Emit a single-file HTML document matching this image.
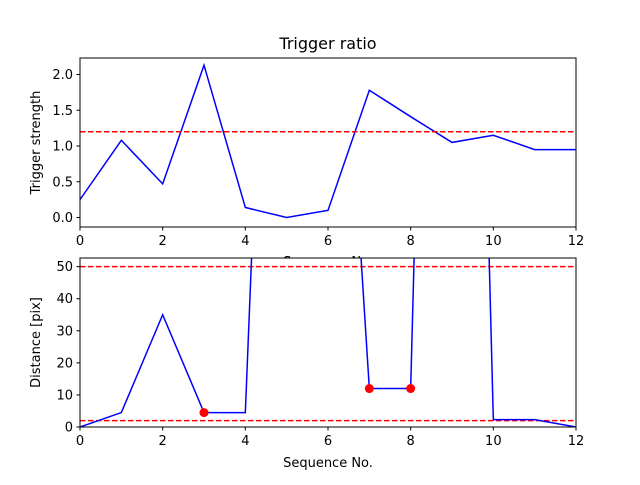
<!DOCTYPE html>
<html><head><meta charset="utf-8"><style>
body{margin:0;background:#fff;}
svg text{font-family:"DejaVu Sans","Liberation Sans",sans-serif;fill:#000;}
</style></head><body>
<svg id="chart" width="640" height="480" xmlns="http://www.w3.org/2000/svg">
<defs>
<clipPath id="c1"><rect x="80" y="58" width="496" height="169"/></clipPath>
<clipPath id="c2"><rect x="80" y="258" width="496" height="169"/></clipPath>
</defs>
<rect width="640" height="480" fill="#fff"/>
<g id="g1"></g>
<g id="g2"></g>
</svg>
<script>
const seq=[0,1,2,3,4,5,6,7,8,9,10,11,12];
const strength=[0.25,1.08,0.47,2.13,0.14,0.0,0.10,1.78,1.41,1.05,1.15,0.95,0.95];
const strengthThreshold=1.2;
const distance=[0,4.5,35,4.5,4.5,325,215,12,12,500,2.3,2.3,0];
const distanceThresholds=[50,2];
const flagged=[3,7,8];
const xTicks=[0,2,4,6,8,10,12];
const yTicks1=[0.0,0.5,1.0,1.5,2.0];
const yTicks2=[0,10,20,30,40,50];
const NS="http://www.w3.org/2000/svg";
function mk(p,t,a){const e=document.createElementNS(NS,t);for(const k in a)e.setAttribute(k,a[k]);p.appendChild(e);return e;}
const X=v=>80+v*(496/12);
const Y1=v=>217.5-v*71.5;
const Y2=v=>427-v*(169/52.7);
function axes(g,Y,yt,fmt,top,clip,ylabel,yl){
  const bg=mk(g,'rect',{x:80,y:top,width:496,height:169,fill:'#fff'});
  
  
  return mk(g,'g',{'clip-path':'url(#'+clip+')'});
}
function frame(g,Y,yt,fmt,top,ylabel,name){
  mk(g,'rect',{x:80,y:top,width:496,height:169,fill:'none',stroke:'#000','stroke-width':1});
  xTicks.forEach(v=>{
    mk(g,'line',{x1:X(v),x2:X(v),y1:top+169,y2:top+172.5,stroke:'#000'});
    const t=mk(g,'text',{x:X(v),y:top+187,'font-size':13,'text-anchor':'middle'});t.textContent=v;
    
    
  });
  yt.forEach(v=>{
    mk(g,'line',{x1:76.5,x2:80,y1:Y(v),y2:Y(v),stroke:'#000'});
    const t=mk(g,'text',{x:73,y:Y(v)+4.5,'font-size':13,'text-anchor':'end'});t.textContent=fmt(v);
    
    
  });
  const yl=mk(g,'text',{x:0,y:0,'font-size':13,'text-anchor':'middle',transform:'translate(40,'+(top+84.5)+') rotate(-90)'});
  yl.textContent=ylabel;
  
  
}
// top
const g1=document.getElementById('g1');
const tt=mk(g1,'text',{x:328,y:49,'font-size':16,'text-anchor':'middle'});tt.textContent='Trigger ratio';


const p1=axes(g1,Y1,yTicks1,null,58,'c1');
const l1=mk(p1,'polyline',{points:seq.map((s,i)=>X(s)+','+Y1(strength[i])).join(' '),fill:'none',stroke:'#0000ff','stroke-width':1.5});


const th1=mk(p1,'line',{x1:80,x2:576,y1:Y1(strengthThreshold),y2:Y1(strengthThreshold),stroke:'#ff0000','stroke-width':1.5,'stroke-dasharray':'5.5,2.5'});


frame(g1,Y1,yTicks1,v=>v.toFixed(1),58,'Trigger strength','y-axis-title-top');
const xl1=mk(g1,'text',{x:328,y:266,'font-size':13,'text-anchor':'middle'});xl1.textContent='Sequence No.';


// bottom
const g2=document.getElementById('g2');
const p2=axes(g2,Y2,yTicks2,null,258,'c2');
distanceThresholds.forEach(v=>{
  const l=mk(p2,'line',{x1:80,x2:576,y1:Y2(v),y2:Y2(v),stroke:'#ff0000','stroke-width':1.5,'stroke-dasharray':'5.5,2.5'});
  
  
});
const l2=mk(p2,'polyline',{points:seq.map((s,i)=>X(s)+','+Y2(distance[i])).join(' '),fill:'none',stroke:'#0000ff','stroke-width':1.5});


flagged.forEach(i=>{
  const c=mk(p2,'circle',{cx:X(seq[i]),cy:Y2(distance[i]),r:4.5,fill:'#ff0000'});
  
  
});
frame(g2,Y2,yTicks2,v=>String(v),258,'Distance [pix]','y-axis-title-bottom');
const xl2=mk(g2,'text',{x:328,y:467,'font-size':13,'text-anchor':'middle'});xl2.textContent='Sequence No.';


</script>
</body></html>
